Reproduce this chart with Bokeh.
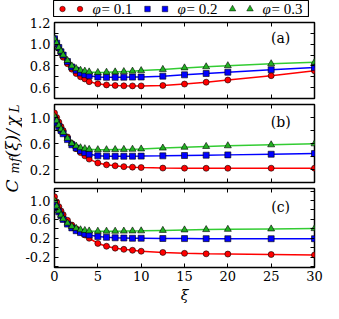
import math
from bokeh.plotting import figure
from bokeh.layouts import column, row
from bokeh.models import Range1d, FixedTicker, LinearAxis, Spacer, PrintfTickFormatter
from bokeh.core.properties import value
from bokeh.embed import file_html
from bokeh.resources import INLINE

# ---------------- data ----------------
xi = [0, 0.25, 0.5, 0.75, 1.0, 1.5, 2.0, 2.5, 3.0, 3.5, 4, 5, 6, 7, 8, 9, 10, 12.5, 15, 17.5, 20, 25, 30]

a_red = [1.05, 1.0, 0.96, 0.92, 0.88, 0.82, 0.77, 0.73, 0.70, 0.68, 0.655, 0.635, 0.625, 0.62, 0.617, 0.616, 0.616, 0.62, 0.633, 0.65, 0.67, 0.71, 0.755]
a_blue = [1.05, 1.01, 0.97, 0.93, 0.9, 0.84, 0.79, 0.76, 0.735, 0.72, 0.71, 0.698, 0.695, 0.695, 0.696, 0.697, 0.698, 0.706, 0.718, 0.73, 0.742, 0.765, 0.785]
a_green = [1.05, 1.01, 0.97, 0.935, 0.9, 0.85, 0.80, 0.775, 0.76, 0.752, 0.745, 0.74, 0.742, 0.745, 0.748, 0.752, 0.757, 0.768, 0.782, 0.792, 0.802, 0.82, 0.833]

b_red = [1.07, 1.0, 0.93, 0.86, 0.8, 0.7, 0.6, 0.52, 0.46, 0.41, 0.36, 0.30, 0.272, 0.257, 0.244, 0.236, 0.23, 0.222, 0.22, 0.219, 0.219, 0.22, 0.22]
b_blue = [0.98, 0.92, 0.86, 0.8, 0.75, 0.66, 0.58, 0.53, 0.49, 0.46, 0.435, 0.41, 0.405, 0.404, 0.404, 0.405, 0.406, 0.41, 0.415, 0.42, 0.425, 0.435, 0.445]
b_green = [1.02, 0.95, 0.88, 0.82, 0.77, 0.68, 0.6, 0.56, 0.535, 0.52, 0.51, 0.505, 0.505, 0.507, 0.509, 0.512, 0.516, 0.53, 0.543, 0.555, 0.565, 0.58, 0.595]

c_red = [1.08, 0.97, 0.87, 0.78, 0.7, 0.58, 0.48, 0.4, 0.33, 0.27, 0.2, 0.09, 0.03, -0.01, -0.035, -0.055, -0.075, -0.1, -0.12, -0.13, -0.135, -0.145, -0.155]
c_blue = [0.95, 0.85, 0.76, 0.68, 0.6, 0.5, 0.42, 0.36, 0.32, 0.29, 0.27, 0.235, 0.22, 0.21, 0.205, 0.2, 0.2, 0.195, 0.193, 0.192, 0.19, 0.19, 0.19]
c_green = [1.0, 0.88, 0.78, 0.69, 0.61, 0.52, 0.45, 0.41, 0.38, 0.365, 0.355, 0.35, 0.35, 0.35, 0.352, 0.355, 0.357, 0.367, 0.377, 0.384, 0.39, 0.398, 0.405]

phi_values = ["0.1", "0.2", "0.3"]
panel_labels = ["(a)", "(b)", "(c)"]
x_ticks = [0, 5, 10, 15, 20, 25, 30]
y_ticks_a = [0.6, 0.8, 1.0, 1.2]
y_minor_a = [0.5, 0.7, 0.9, 1.1]
y_ticks_b = [0.2, 0.6, 1.0]
y_minor_b = [0.0, 0.4, 0.8, 1.2]
y_ticks_c = [-0.2, 0.2, 0.6, 1.0]
y_minor_c = [-0.4, 0.0, 0.4, 0.8, 1.2]
ylim_a = (0.5, 1.2)
ylim_b = (0.0, 1.2)
ylim_c = (-0.42, 1.255)
ylabel_parts = ["C", "mf", "(ξ)/", "χ", "L"]
xlabel = "ξ"

RED, BLUE, GREEN_L, GREEN_M = "#ff0000", "#0000ff", "#33cc33", "#22b022"
SERIF = "DejaVu Serif"
COLW = 301


def style_axis(ax, labels=True, size="13px"):
    ax.axis_line_color = None
    ax.major_tick_in = 4
    ax.major_tick_out = 0
    ax.minor_tick_in = 4
    ax.minor_tick_out = 0
    ax.major_tick_line_color = "black"
    ax.minor_tick_line_color = "black"
    ax.major_tick_line_width = 1
    ax.minor_tick_line_width = 1
    ax.major_label_text_font = SERIF
    if labels:
        ax.major_label_text_color = "black"
        ax.major_label_text_font_size = size
        ax.major_label_standoff = 4
    else:
        ax.major_label_text_color = None
        ax.major_label_text_font_size = "0px"
        ax.major_label_standoff = 0


def panel(height, ylim, yt, ym, reds, blues, greens, label, label_y, top, bottom, last=False):
    p = figure(width=COLW, height=height, x_range=Range1d(0, 30), y_range=Range1d(*ylim),
               output_backend="svg", toolbar_location=None,
               min_border_left=28, min_border_right=9, min_border_top=top, min_border_bottom=bottom)
    p.xgrid.grid_line_color = None
    p.ygrid.grid_line_color = None
    p.outline_line_color = "black"
    p.outline_line_width = 1.5
    p.background_fill_color = "white"
    p.border_fill_color = "white"
    p.xaxis.ticker = FixedTicker(ticks=x_ticks, minor_ticks=[])
    p.yaxis.ticker = FixedTicker(ticks=yt, minor_ticks=ym)
    p.yaxis.formatter = PrintfTickFormatter(format="%.1f")
    style_axis(p.xaxis[0], labels=last)
    style_axis(p.yaxis[0], labels=True)
    if last:
        p.xaxis.major_label_standoff = 3
    top_ax = LinearAxis(ticker=FixedTicker(ticks=x_ticks, minor_ticks=[]))
    style_axis(top_ax, labels=False)
    p.add_layout(top_ax, "above")
    right_ax = LinearAxis(ticker=FixedTicker(ticks=yt, minor_ticks=ym))
    style_axis(right_ax, labels=False)
    p.add_layout(right_ax, "right")

    p.line(xi, reds, line_color=RED, line_width=1.5)
    p.line(xi, blues, line_color=BLUE, line_width=1.5)
    p.line(xi, greens, line_color=GREEN_L, line_width=1.5)
    p.scatter(xi, reds, marker="circle", size=6, fill_color=RED, line_color="black", line_width=0.6)
    p.scatter(xi, blues, marker="square", size=6, fill_color=BLUE, line_color="black", line_width=0.6)
    p.scatter(xi, greens, marker="triangle", size=7, fill_color=GREEN_M, line_color="black", line_width=0.6)
    p.text(x=[26.1], y=[label_y], text=[label], text_font=value(SERIF), text_font_size="14px",
           text_align="center", text_baseline="middle", text_color="black")
    return p


p1 = panel(84, ylim_a, y_ticks_a, y_minor_a, a_red, a_blue, a_green, panel_labels[0], 1.06, 5, 3)
p2 = panel(84, ylim_b, y_ticks_b, y_minor_b, b_red, b_blue, b_green, panel_labels[1], 0.93, 3, 3)
p3 = panel(101, ylim_c, y_ticks_c, y_minor_c, c_red, c_blue, c_green, panel_labels[2], 0.87, 3, 19, last=True)

# ---------------- x label ----------------
XH = 17
xlab = figure(width=COLW, height=XH, x_range=Range1d(0, 30), y_range=Range1d(0, XH),
              output_backend="svg", toolbar_location=None, x_axis_type=None, y_axis_type=None,
              min_border_left=28, min_border_right=9, min_border_top=0, min_border_bottom=0)
xlab.xgrid.grid_line_color = None
xlab.ygrid.grid_line_color = None
xlab.outline_line_color = None
xlab.border_fill_color = "white"
xlab.text(x=[15], y=[XH / 2], text=[xlabel], text_font=value(SERIF), text_font_style="italic",
          text_font_size="14px", text_align="center", text_baseline="middle", text_color="black")

# ---------------- legend ----------------
LH = 17
leg = figure(width=256, height=LH, x_range=Range1d(0, 256), y_range=Range1d(0, LH),
             output_backend="svg", toolbar_location=None, x_axis_type=None, y_axis_type=None,
             min_border=0)
leg.xgrid.grid_line_color = None
leg.ygrid.grid_line_color = None
leg.outline_line_color = "black"
leg.outline_line_width = 1.2
leg.background_fill_color = "white"
leg.border_fill_color = "white"
offs = [0, 85, 170]
markers = ["circle", "square", "triangle"]
fills = [RED, BLUE, GREEN_M]
for o, m, f, v in zip(offs, markers, fills, phi_values):
    leg.scatter([9 + o, 26.5 + o], [LH / 2, LH / 2], marker=m, size=5.5 if m != "triangle" else 6.5,
                fill_color=f, line_color="black", line_width=0.5)
    leg.text(x=[39 + o], y=[LH / 2], text=["φ"], text_font=value("Liberation Serif"), text_font_style="italic",
             text_font_size="15px", text_baseline="middle", text_align="left", text_color="black")
    leg.text(x=[48 + o], y=[LH / 2], text=["= " + v], text_font=value("Liberation Serif"),
             text_font_size="15px", text_baseline="middle", text_align="left", text_color="black")

# ---------------- y label ----------------
TOTAL_H = LH + 84 + 84 + 101 + XH
ylab = figure(width=22, height=TOTAL_H, x_range=Range1d(0, 22), y_range=Range1d(0, TOTAL_H),
              output_backend="svg", toolbar_location=None, x_axis_type=None, y_axis_type=None,
              min_border=0)
ylab.xgrid.grid_line_color = None
ylab.ygrid.grid_line_color = None
ylab.outline_line_color = None
ylab.background_fill_color = "white"
ylab.border_fill_color = "white"
part_pos = [(11, 111, "17px"), (14, 130, "12px"), (11, 146, "17px"), (11, 177, "17px"), (14, 191, "12px")]
for (px, py, fs), t in zip(part_pos, ylabel_parts):
    ylab.text(x=[px], y=[py], text=[t], angle=math.pi / 2, text_font=value(SERIF),
              text_font_style="italic", text_font_size=fs, text_align="left",
              text_baseline="alphabetic", text_color="black")

right = column(row(Spacer(width=31, height=LH), leg), p1, p2, p3, xlab)
layout = row(ylab, right)

open("out.html", "w").write(file_html(layout, INLINE))
